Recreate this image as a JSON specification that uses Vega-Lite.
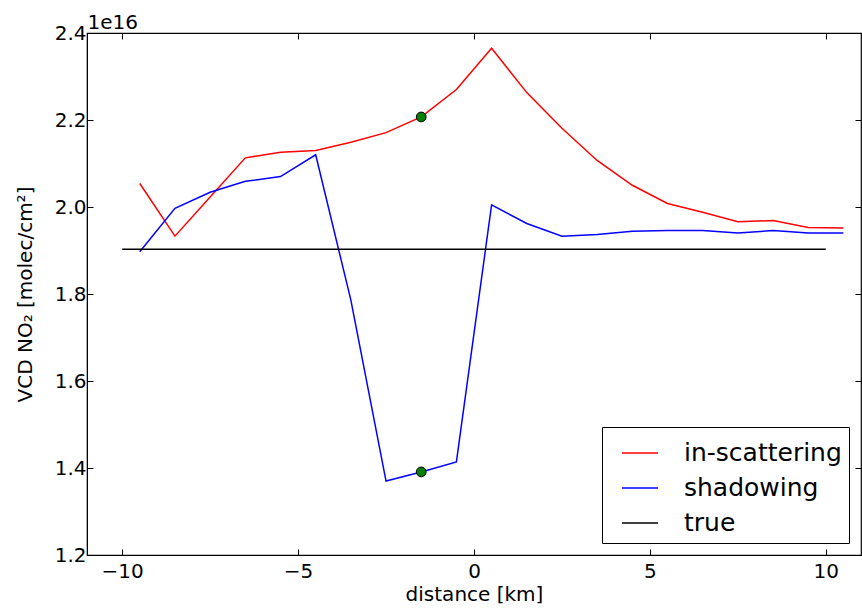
{
  "$schema": "https://vega.github.io/schema/vega-lite/v6.json",
  "width": 774,
  "height": 522,
  "autosize": {"type": "none"},
  "padding": {"left": 87, "top": 33, "right": 1, "bottom": 56},
  "background": "white",
  "config": {
    "font": "DejaVu Sans",
    "view": {"stroke": "black", "strokeWidth": 1.2},
    "axis": {"grid": false, "domainColor": "black", "tickColor": "black", "labelColor": "black", "titleColor": "black", "labelFontSize": 20, "titleFontSize": 20, "titleFontWeight": "normal", "tickSize": -6, "labelFont": "DejaVu Sans", "titleFont": "DejaVu Sans"}
  },
  "datasets": {
    "lines": [
      {"x": -9.5, "series": "in-scattering", "y": 2.054},
      {"x": -8.5, "series": "in-scattering", "y": 1.933},
      {"x": -7.5, "series": "in-scattering", "y": 2.023},
      {"x": -6.5, "series": "in-scattering", "y": 2.113},
      {"x": -5.5, "series": "in-scattering", "y": 2.126},
      {"x": -4.5, "series": "in-scattering", "y": 2.130},
      {"x": -3.5, "series": "in-scattering", "y": 2.149},
      {"x": -2.5, "series": "in-scattering", "y": 2.171},
      {"x": -1.5, "series": "in-scattering", "y": 2.207},
      {"x": -0.5, "series": "in-scattering", "y": 2.270},
      {"x": 0.5, "series": "in-scattering", "y": 2.365},
      {"x": 1.5, "series": "in-scattering", "y": 2.263},
      {"x": 2.5, "series": "in-scattering", "y": 2.181},
      {"x": 3.5, "series": "in-scattering", "y": 2.107},
      {"x": 4.5, "series": "in-scattering", "y": 2.050},
      {"x": 5.5, "series": "in-scattering", "y": 2.008},
      {"x": 6.5, "series": "in-scattering", "y": 1.988},
      {"x": 7.5, "series": "in-scattering", "y": 1.966},
      {"x": 8.5, "series": "in-scattering", "y": 1.969},
      {"x": 9.5, "series": "in-scattering", "y": 1.953},
      {"x": 10.5, "series": "in-scattering", "y": 1.952},
      {"x": -9.5, "series": "shadowing", "y": 1.897},
      {"x": -8.5, "series": "shadowing", "y": 1.997},
      {"x": -7.5, "series": "shadowing", "y": 2.034},
      {"x": -6.5, "series": "shadowing", "y": 2.059},
      {"x": -5.5, "series": "shadowing", "y": 2.070},
      {"x": -4.5, "series": "shadowing", "y": 2.120},
      {"x": -3.5, "series": "shadowing", "y": 1.786},
      {"x": -2.5, "series": "shadowing", "y": 1.370},
      {"x": -1.5, "series": "shadowing", "y": 1.391},
      {"x": -0.5, "series": "shadowing", "y": 1.414},
      {"x": 0.5, "series": "shadowing", "y": 2.005},
      {"x": 1.5, "series": "shadowing", "y": 1.962},
      {"x": 2.5, "series": "shadowing", "y": 1.933},
      {"x": 3.5, "series": "shadowing", "y": 1.937},
      {"x": 4.5, "series": "shadowing", "y": 1.944},
      {"x": 5.5, "series": "shadowing", "y": 1.946},
      {"x": 6.5, "series": "shadowing", "y": 1.946},
      {"x": 7.5, "series": "shadowing", "y": 1.940},
      {"x": 8.5, "series": "shadowing", "y": 1.946},
      {"x": 9.5, "series": "shadowing", "y": 1.940},
      {"x": 10.5, "series": "shadowing", "y": 1.940},
      {"x": -10, "series": "true", "y": 1.903},
      {"x": 10, "series": "true", "y": 1.903}
    ],
    "dots": [
      {"x": -1.5, "y": 2.207},
      {"x": -1.5, "y": 1.391}
    ]
  },
  "layer": [
    {
      "data": {"name": "lines"},
      "mark": {"type": "line", "strokeWidth": 1.5, "clip": true},
      "encoding": {
        "x": {"field": "x", "type": "quantitative", "scale": {"domain": [-11, 11], "nice": false, "zero": false},
              "axis": {"orient": "bottom", "values": [-10, -5, 0, 5, 10], "title": "distance [km]", "labelExpr": "replace(datum.label, '-', '−')", "labelPadding": 12, "titlePadding": 3}},
        "y": {"field": "y", "type": "quantitative", "scale": {"domain": [1.2, 2.4], "nice": false, "zero": false},
              "axis": {"orient": "left", "values": [1.2, 1.4, 1.6, 1.8, 2.0, 2.2, 2.4], "format": ".1f", "title": "VCD NO₂ [molec/cm²]", "labelPadding": 7, "titlePadding": 19}},
        "color": {"field": "series", "type": "nominal",
                  "scale": {"domain": ["in-scattering", "shadowing", "true"], "range": ["#ff0000", "#0000ff", "#000000"]},
                  "legend": {"title": null, "orient": "bottom-right", "offset": 12, "symbolType": "stroke", "symbolSize": 1296, "symbolStrokeWidth": 1.5, "labelFontSize": 25, "labelColor": "black", "labelFont": "DejaVu Sans", "labelOffset": 25, "padding": 7, "symbolOffset": 12, "rowPadding": 3, "strokeColor": "black", "fillColor": "white", "cornerRadius": 0}}
      }
    },
    {
      "data": {"name": "dots"},
      "mark": {"type": "point", "filled": true, "fill": "#008000", "stroke": "black", "strokeWidth": 1, "size": 95, "opacity": 1},
      "encoding": {
        "x": {"field": "x", "type": "quantitative",
              "axis": {"orient": "top", "values": [-10, -5, 0, 5, 10], "labels": false, "domain": false, "title": "1e16", "titleAnchor": "start", "titleAlign": "left", "titleBaseline": "alphabetic", "titleX": 0, "titleY": -5, "titleFontSize": 20}},
        "y": {"field": "y", "type": "quantitative",
              "axis": {"orient": "right", "values": [1.2, 1.4, 1.6, 1.8, 2.0, 2.2, 2.4], "labels": false, "title": null, "domain": false}}
      }
    }
  ],
  "resolve": {"axis": {"x": "independent", "y": "independent"}}
}
